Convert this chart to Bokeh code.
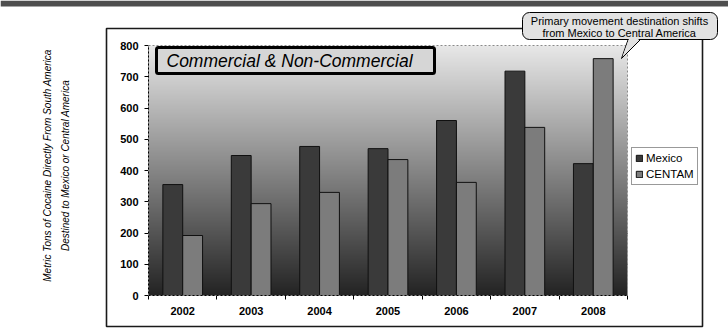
import numpy as np
from bokeh.plotting import figure
from bokeh.models import Range1d, FixedTicker, Label, BoxAnnotation, PolyAnnotation
from bokeh.embed import file_html
from bokeh.resources import INLINE

# Metric tons of cocaine shipped directly from South America, by destination
years = ["2002", "2003", "2004", "2005", "2006", "2007", "2008"]
mexico = [355, 448, 477, 470, 560, 718, 422]
centam = [192, 294, 330, 435, 362, 538, 758]
y_ticks = [0, 100, 200, 300, 400, 500, 600, 700, 800]
grid_ticks = [100, 200, 300, 400, 500, 600, 700]

FONT = "Liberation Sans"
BAR_W = 0.29
W, H = 728, 328

# plot area inside the canvas (pixels): left, right, top, bottom
PL, PR, PT, PB = 148, 627, 45, 295
Y_MAX = 800

n = len(years)
centers = np.arange(n) + 0.5
x_mex = centers - BAR_W / 2
x_cen = centers + BAR_W / 2

# the frame spans the whole canvas; ranges are chosen so that the
# value area [0, n] x [0, 800] lands on the plot-area rectangle
xs = (PR - PL) / n
ys = (PB - PT) / Y_MAX
x_range = Range1d(-PL / xs, n + (W - PR) / xs)
y_range = Range1d(-(H - PB) / ys, Y_MAX + PT / ys)

p = figure(width=W, height=H, output_backend="svg", toolbar_location=None,
           x_range=x_range, y_range=y_range, min_border=0)
p.border_fill_color = "white"
p.background_fill_color = "white"
p.outline_line_color = None

# vertical gradient behind the bars: light at the top, near-black at the bottom
rows = 250
g = np.linspace(36, 232, rows).astype(np.uint32)
img = (255 << 24) | (g << 16) | (g << 8) | g
img = img.reshape(rows, 1).astype(np.uint32)
p.image_rgba(image=[img], x=0, y=0, dw=n, dh=Y_MAX)

# grid
p.xgrid.visible = False
p.ygrid.ticker = FixedTicker(ticks=grid_ticks)
p.ygrid.cross_bounds = (0, n)
p.ygrid.grid_line_color = "#262626"
p.ygrid.grid_line_width = 1

# dotted plot-area border
p.add_layout(BoxAnnotation(left=0, right=n, bottom=0, top=Y_MAX,
                           fill_alpha=0, line_color="#8a8a8a", line_alpha=1,
                           line_width=1, line_dash="2 2"))

# bars
p.vbar(x=x_mex, top=mexico, width=BAR_W, bottom=0, fill_color="#3a3a3a",
       line_color="#101010", line_width=1, legend_label="Mexico")
p.vbar(x=x_cen, top=centam, width=BAR_W, bottom=0, fill_color="#7c7c7c",
       line_color="#101010", line_width=1, legend_label="CENTAM")

# y axis
yax = p.yaxis[0]
yax.fixed_location = 0
yax.bounds = (0, Y_MAX)
yax.ticker = FixedTicker(ticks=y_ticks)
yax.axis_line_color = "black"
yax.major_tick_line_color = "black"
yax.major_tick_out = 4
yax.major_tick_in = 0
yax.minor_tick_line_color = None
yax.major_label_text_font = FONT
yax.major_label_text_font_style = "bold"
yax.major_label_text_font_size = "11px"
yax.major_label_text_color = "black"
yax.major_label_standoff = 6

# x axis: labels centred on each year, ticks between years
xax = p.xaxis[0]
xax.fixed_location = 0
xax.bounds = (0, n)
xax.ticker = FixedTicker(ticks=list(centers), minor_ticks=list(range(n + 1)))
xax.major_label_overrides = {float(c): y for c, y in zip(centers, years)}
xax.axis_line_color = "black"
xax.major_tick_line_color = None
xax.major_tick_out = 4
xax.minor_tick_line_color = "black"
xax.minor_tick_out = 4
xax.minor_tick_in = 0
xax.major_label_text_font = FONT
xax.major_label_text_font_style = "bold"
xax.major_label_text_font_size = "11px"
xax.major_label_text_color = "black"
xax.major_label_standoff = 7

# legend to the right of the plot area
lg = p.legend[0]
lg.location = (631, H - 185)
lg.label_text_font = FONT
lg.label_text_font_size = "11.5px"
lg.label_text_color = "black"
lg.glyph_width = 8
lg.glyph_height = 8
lg.label_height = 14
lg.label_standoff = 3
lg.spacing = 2
lg.padding = 3
lg.margin = 0
lg.border_line_color = "#333333"
lg.border_line_width = 1
lg.background_fill_color = "white"
lg.background_fill_alpha = 1


def canvas_box(left, right, top, bottom, **kw):
    return BoxAnnotation(left=left, right=right, top=top, bottom=bottom,
                         left_units="canvas", right_units="canvas",
                         top_units="canvas", bottom_units="canvas", **kw)


def canvas_label(x, y, text, **kw):
    return Label(x=x, y=y, x_units="canvas", y_units="canvas", text=text,
                 text_font=FONT, text_color="black", text_baseline="middle",
                 **kw)


# top stripe and outer chart border
p.add_layout(canvas_box(0, W, 0, 6, fill_color="#4e4e4e", fill_alpha=1,
                        line_color=None))
p.add_layout(canvas_box(106, 702, 28, 326, fill_alpha=0, line_color="#1a1a1a",
                        line_alpha=1, line_width=1.6))

# title banner
p.add_layout(canvas_box(156, 434, 47, 73, fill_color="#d6d6d6", fill_alpha=1,
                        line_color="black", line_alpha=1, line_width=3,
                        border_radius=2))
p.add_layout(canvas_label(166, 60, "Commercial & Non-Commercial",
                          text_font_style="italic", text_font_size="17.5px"))

# callout
p.add_layout(PolyAnnotation(xs=[628, 641, 621], ys=[38, 38, 58],
                            xs_units="canvas", ys_units="canvas",
                            fill_color="#e2e2e2", fill_alpha=1,
                            line_color="black", line_alpha=1, line_width=1))
p.add_layout(canvas_box(522, 717, 12, 39, fill_color="#e2e2e2", fill_alpha=1,
                        line_color="black", line_alpha=1, line_width=1,
                        border_radius=7))
p.add_layout(PolyAnnotation(xs=[629, 640, 622], ys=[37, 37, 56],
                            xs_units="canvas", ys_units="canvas",
                            fill_color="#e2e2e2", fill_alpha=1,
                            line_color=None))
p.add_layout(canvas_label(619, 20.5, "Primary movement destination shifts",
                          text_font_size="11px", text_align="center"))
p.add_layout(canvas_label(619, 32.5, "from Mexico to Central America",
                          text_font_size="11px", text_align="center"))

# y axis title in two rotated lines
for lx, txt in [(47, "Metric Tons of Cocaine Directly From South America"),
                (65, "Destined to Mexico or Central America")]:
    p.add_layout(canvas_label(lx, 165, txt, text_font_style="italic",
                              text_font_size="10px", angle=np.pi / 2,
                              text_align="center"))

open("out.html", "w").write(file_html(p, INLINE))
